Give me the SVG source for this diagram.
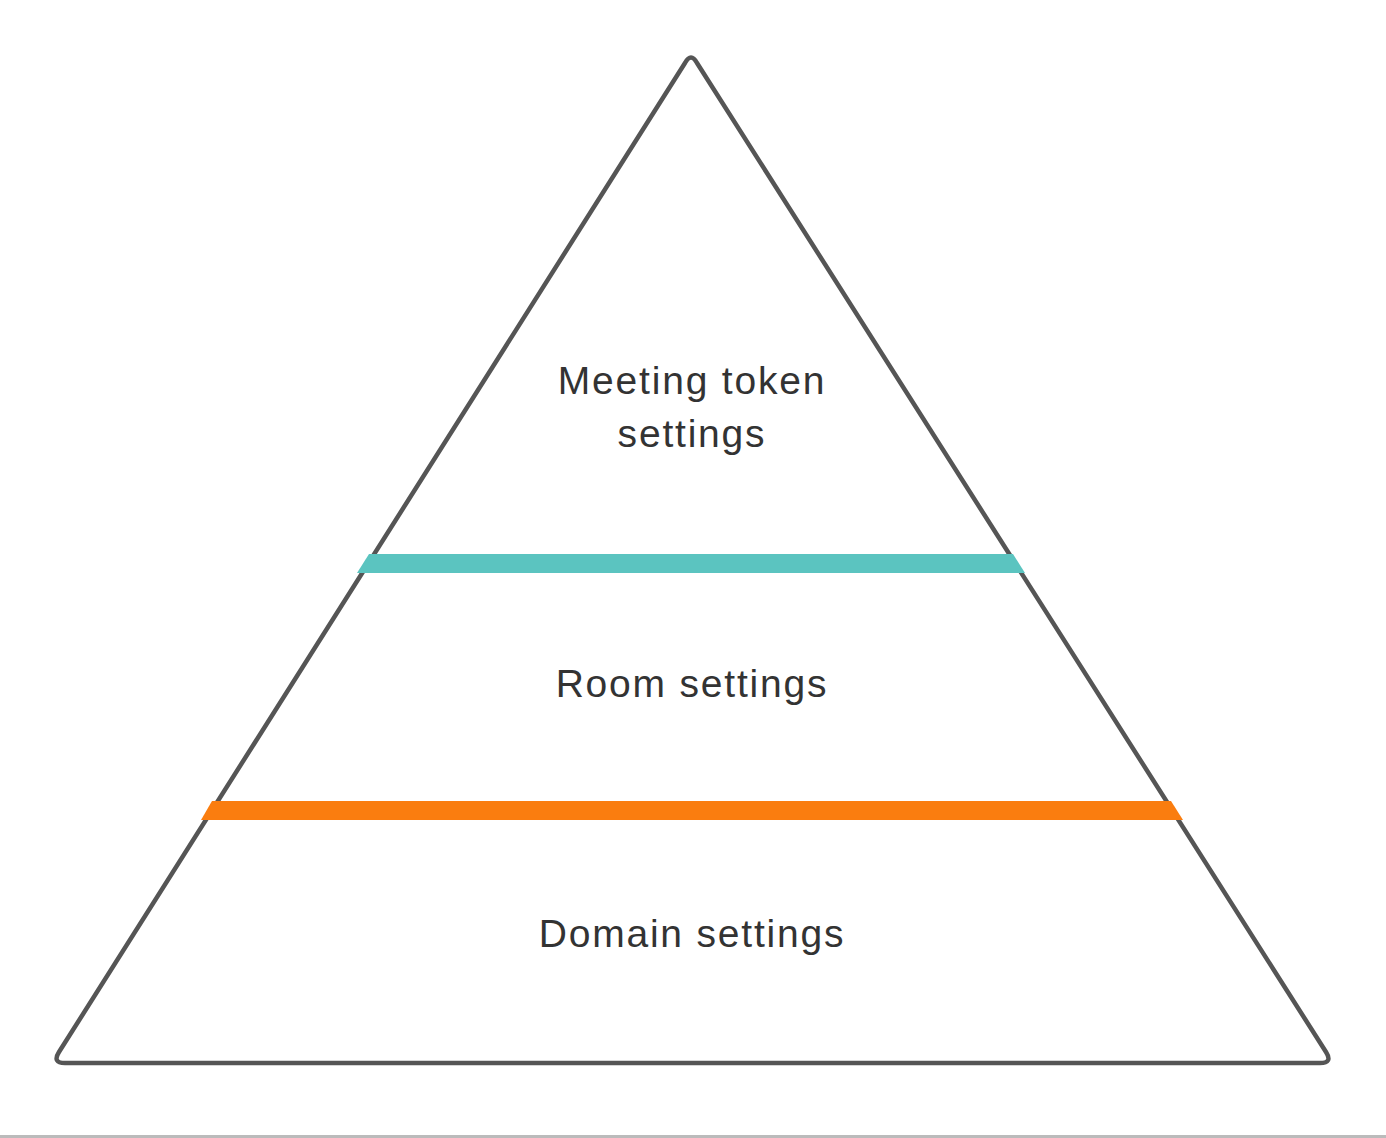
<svg xmlns="http://www.w3.org/2000/svg" width="1386" height="1138" viewBox="0 0 1386 1138">
<style>
.lbl{font-family:"Liberation Sans",Arial,sans-serif;font-size:39px;fill:#333333;text-anchor:middle;letter-spacing:1.8px}
</style>
<rect width="1386" height="1138" fill="#ffffff"/>
<g id="pyramid">
<path d="M685 63 Q691 52 697 63 L1326 1052 Q1333 1063 1320 1063 L65 1063 Q52 1063 59 1052 Z" fill="none" stroke="#555555" stroke-width="4.5" stroke-linejoin="round"/>
</g>
<g id="dividers">
<polygon id="teal-band" points="369,554 1013,554 1025,573 357,573" fill="#5BC4C0"/>
<polygon id="orange-band" points="212,801 1171,801 1183,820 201,820" fill="#FA7D0F"/>
</g>
<g id="labels">
<text class="lbl" x="692" y="394">Meeting token</text>
<text class="lbl" x="692" y="447">settings</text>
<text class="lbl" x="692" y="697">Room settings</text>
<text class="lbl" x="692" y="947">Domain settings</text>
</g>
<rect x="0" y="1135" width="1386" height="3" fill="#BBBBBB"/>
</svg>
